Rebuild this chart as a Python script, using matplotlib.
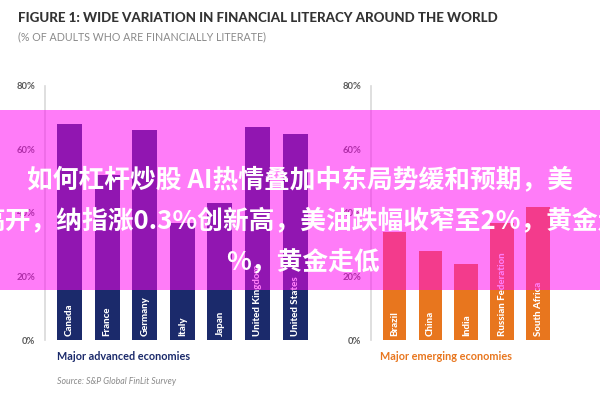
import matplotlib
matplotlib.use('Agg')
import matplotlib.pyplot as plt
from matplotlib.patches import Rectangle

# data (% of adults who are financially literate)
advanced = ["Canada", "France", "Germany", "Italy", "Japan", "United Kingdom", "United States"]
advanced_vals = [68, 52, 66, 37, 43, 67, 65]
emerging = ["Brazil", "China", "India", "Russian Federation", "South Africa"]
emerging_vals = [34, 28, 24, 37, 42]
yticks = [0, 20, 40, 60, 80]
ytick_labels = ["0%", "20%", "40%", "60%", "80%"]

NAVY = "#1b2a6b"
ORANGE = "#e8761e"
GRID = "#d9d9d9"

W, H = 600, 400
fig = plt.figure(figsize=(6, 4), dpi=100)
fig.patch.set_facecolor("white")


def px_axes(x0, x1, y_top, y_bot):
    return fig.add_axes([x0 / W, 1 - y_bot / H, (x1 - x0) / W, (y_bot - y_top) / H])


def panel(ax, names, vals, color, xlim):
    x = list(range(len(names)))
    ax.bar(x, vals, width=0.665, color=color, zorder=2)
    for i, name in enumerate(names):
        ax.text(i, 1.2, name, rotation=90, ha="center", va="bottom", color="white",
                fontsize=7, fontweight="black", family="Lato", zorder=3)
    ax.set_xlim(*xlim)
    ax.set_ylim(0, 80)
    ax.set_yticks(yticks)
    ax.set_yticklabels(ytick_labels, fontsize=6.8, color="#5a5a5a", family="Lato",
                       fontweight="bold")
    ax.set_xticks([])
    ax.tick_params(axis="y", length=0, pad=7)
    for s in ["top", "right", "bottom"]:
        ax.spines[s].set_visible(False)
    ax.spines["left"].set_color(GRID)
    ax.spines["left"].set_linewidth(1.2)
    ax.set_facecolor("none")


ax1 = px_axes(45, 315, 86, 340)
panel(ax1, advanced, advanced_vals, NAVY, (-0.652, 6.53))
ax2 = px_axes(371, 565, 86, 340)
panel(ax2, emerging, emerging_vals, ORANGE, (-0.653, 4.74))

# titles and notes
fig.text(18 / W, 1 - 18 / H, "FIGURE 1: WIDE VARIATION IN FINANCIAL LITERACY AROUND THE WORLD",
         fontsize=9.6, fontweight="black", color="#333333", family="Lato", va="center")
fig.text(18 / W, 1 - 37 / H, "(% OF ADULTS WHO ARE FINANCIALLY LITERATE)",
         fontsize=7.7, color="#8a8a8a", family="Lato", va="center")
fig.text(57 / W, 1 - 357 / H, "Major advanced economies", fontsize=7.8, color=NAVY,
         family="Lato", fontweight="bold", va="center")
fig.text(380 / W, 1 - 357 / H, "Major emerging economies", fontsize=7.8, color=ORANGE,
         family="Lato", fontweight="bold", va="center")
fig.text(57 / W, 1 - 381 / H, "Source: S&P Global FinLit Survey", fontsize=6.3,
         color="#8a8a8a", style="italic", family="Lato", va="center")

# magenta banner overlay with text
fig.patches.append(Rectangle((0, 1 - 290 / H), 1, 180 / H, transform=fig.transFigure,
                             facecolor=(1.0, 0.02, 0.95), alpha=0.52, edgecolor="none",
                             zorder=10))
cjk = ["Noto Sans CJK SC", "DejaVu Sans"]
fig.text(0.5, 1 - 181 / H, "如何杠杆炒股 AI热情叠加中东局势缓和预期，美", fontsize=18.5,
         fontweight="bold", color="white", family=cjk, ha="center", va="center", zorder=11)
fig.text(-20 / W, 1 - 222 / H, "高开，纳指涨0.3%创新高，美油跌幅收窄至2%，黄金走", fontsize=18.5,
         fontweight="bold", color="white", family=cjk, ha="left", va="center", zorder=11)
fig.text(226 / W, 1 - 263 / H, "%，黄金走低", fontsize=18.5,
         fontweight="bold", color="white", family=cjk, ha="left", va="center", zorder=11)

fig.savefig("out.png", dpi=100)
